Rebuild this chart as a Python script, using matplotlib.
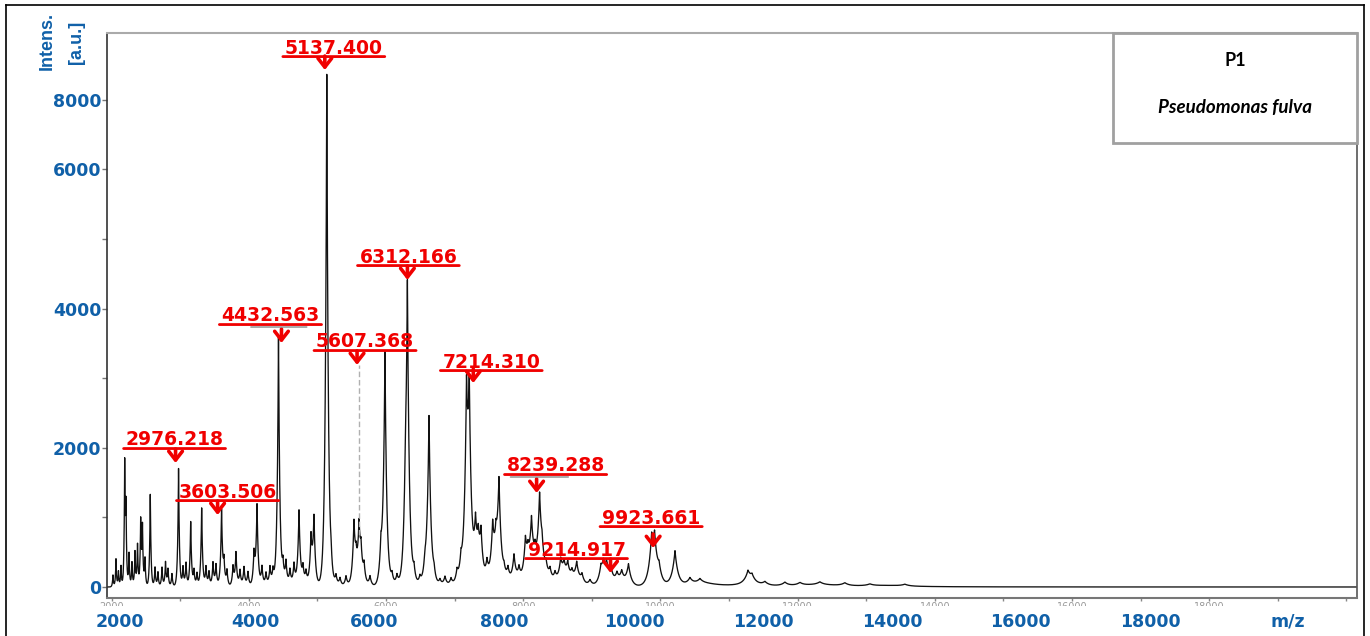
import numpy as np
import matplotlib.pyplot as plt
from matplotlib.patches import Rectangle
from matplotlib.lines import Line2D
from matplotlib.transforms import offset_copy

# peak list (m/z, intensity a.u.)
peak_mz = [2020, 2064, 2100, 2137, 2191, 2210, 2254, 2297, 2341, 2378, 2424, 2450, 2487,
           2564, 2633, 2676, 2735, 2786, 2822, 2880, 2976, 3041, 3085, 3153, 3201, 3245,
           3313, 3376, 3420, 3478, 3522, 3603, 3638, 3682, 3770, 3813, 3872, 3930, 3988,
           4076, 4120, 4192, 4251, 4309, 4353, 4433, 4498, 4542, 4600, 4659, 4732, 4790,
           4834, 4907, 4950, 5137, 5199, 5271, 5330, 5417, 5533, 5563, 5607, 5635, 5680,
           5767, 5927, 5985, 6088, 6160, 6285, 6312, 6408, 6495, 6568, 6627, 6700,
           6787, 6860, 6948, 7036, 7094, 7174, 7214, 7305, 7345, 7385, 7472, 7555, 7603,
           7647, 7720, 7778, 7866, 7939, 8033, 8070, 8121, 8172, 8239, 8274, 8333, 8391,
           8464, 8547, 8595, 8649, 8711, 8780, 8857, 8974, 9134, 9170, 9215, 9272, 9367,
           9436, 9535, 9873, 9915, 9980, 10213, 10431, 10577, 11277, 11335, 11524, 11815,
           12034, 12325, 12689, 13054, 13564]
peak_int = [170, 400, 220, 300, 1700, 1050, 480, 350, 500, 600, 920, 830, 400,
            1330, 280, 210, 280, 350, 250, 190, 1700, 280, 340, 930, 230, 190,
            1130, 280, 210, 340, 310, 1080, 330, 230, 280, 480, 230, 280, 210,
            450, 1150, 280, 190, 270, 210, 3600, 280, 340, 230, 310, 1080, 250,
            190, 650, 950, 7350, 210, 150, 120, 150, 850, 250, 750, 400, 270,
            150, 420, 3330, 150, 150, 800, 4100, 210, 120, 210, 2420, 150,
            90, 140, 110, 190, 280, 2330, 2330, 700, 450, 650, 280, 750, 400,
            1400, 150, 210, 420, 210, 550, 250, 800, 250, 1150, 300, 210, 190,
            150, 320, 230, 260, 150, 310, 150, 90, 200, 230, 220, 250, 150,
            180, 310, 550, 550, 200, 500, 90, 60, 160, 100, 50, 50,
            40, 40, 40, 25, 25]

# broad low humps of the baseline after 10000
hump_mz = [10600, 11300, 12300, 13300]
hump_int = [55, 40, 30, 18]
hump_fwhm = [500, 400, 800, 800]

# labelled peaks and the height where their arrows end
label_mz = [2976.218, 3603.506, 4432.563, 5137.400, 5607.368, 6312.166,
            7214.310, 8239.288, 9214.917, 9923.661]
label_tip = [1782, 1034, 3506, 7428, 3190, 4411, 2931, 1351, 201, 560]
label_text = ['%.3f' % v for v in label_mz]

ytick_vals = [0, 1000, 2000, 3000, 4000, 5000, 6000, 7000]
ytick_text = ['0', '', '2000', '', '4000', '', '6000', '8000']
xtick_vals = list(range(2000, 20001, 1000))
xtick_text = [str(v) if v % 2000 == 0 and v < 20000 else '' for v in xtick_vals]
xlab_text = ['2000', '4000', '6000', '8000', '10000', '12000', '14000', '16000', '18000', 'm/z']

# layout (pixels)
W, H = 1370, 636
arrow_dx = [-3, -4, 3, -2, -2, 0, 4, -3, 4, -2]
text_off = [(-4, 23), (6, 23), (-8, 27), (7, 22), (6, 23), (1, 23), (22, 21), (16, 27), (-30, 23), (-4, 30)]
gray_marks = {2: (0.30, 0.87), 7: (0.04, 0.63)}
xlab_px = [120, 255, 374, 504, 634, 763, 892, 1020, 1150, 1288]

BLUE = '#1060a8'
RED = '#f00000'


def fx(px):
    return px / W


def fy(py):
    return 1 - py / H


fig = plt.figure(figsize=(13.7, 6.36), dpi=100)
ax = fig.add_axes([fx(107), fy(598), fx(1357) - fx(107), fy(33) - fy(598)])

# each listed peak drawn as a sharp tent with exponential flanks
mz = np.arange(1933.0, 20155.0, 0.5)
spec = np.zeros_like(mz)
for c, h in zip(peak_mz, peak_int):
    tau = 0.0045 * c
    spec += h * np.exp(-np.abs(mz - c) / tau)
for c, h, w in zip(hump_mz, hump_int, hump_fwhm):
    hw = w / 2
    spec += h * hw ** 2 / (hw ** 2 + (mz - c) ** 2)

ax.plot(mz, spec, color='#111111', lw=0.95)
ax.set_xlim(1933, 20155)
ax.set_ylim(-158, 7960)

ax.set_yticks(ytick_vals)
ax.set_yticklabels(ytick_text, color=BLUE, fontsize=12.5, fontweight='bold')
ax.tick_params(axis='y', length=3.6, width=1, color='#777777', pad=0.5)
ax.set_xticks(xtick_vals)
ax.set_xticklabels(xtick_text, color='#9a9a9a', fontsize=7)
ax.tick_params(axis='x', length=2.2, width=1, color='#888888', pad=1)

ax.spines['left'].set_color('#333333')
ax.spines['left'].set_linewidth(1.2)
ax.spines['bottom'].set_color('#777777')
ax.spines['bottom'].set_linewidth(1.5)
ax.spines['top'].set_color('#aaaaaa')
ax.spines['top'].set_linewidth(1.5)
ax.spines['right'].set_color('#555555')
ax.spines['right'].set_linewidth(1.2)

# peak labels
for i, (m, tip, s) in enumerate(zip(label_mz, label_tip, label_text)):
    trans = offset_copy(ax.transData, fig=fig, x=arrow_dx[i], y=0, units='dots')
    ax.annotate('', xy=(m, tip), xycoords=trans, xytext=(0, 14), textcoords='offset pixels',
                arrowprops=dict(arrowstyle='->, head_length=0.45, head_width=0.35',
                                color=RED, lw=2.6, shrinkA=0, shrinkB=0, mutation_scale=14))
    txt = ax.annotate(s, xy=(m, tip), xytext=text_off[i], textcoords='offset pixels',
                      ha='center', va='center', color=RED, fontsize=13.5, fontweight='bold')
    ax.annotate('', xy=(-0.02, 0.05), xycoords=txt, xytext=(1.02, 0.05), textcoords=txt,
                arrowprops=dict(arrowstyle='-', color=RED, lw=2, shrinkA=0, shrinkB=0))
    if i in gray_marks:
        a, b = gray_marks[i]
        ax.annotate('', xy=(a, -0.08), xycoords=txt, xytext=(b, -0.08), textcoords=txt,
                    arrowprops=dict(arrowstyle='-', color='#888888', lw=1, shrinkA=0, shrinkB=0))

ax.plot([label_mz[4], label_mz[4]], [750, label_tip[4]], ls=(0, (4, 2)), color='#b0b0b0', lw=1)

# sample box
ax.add_patch(Rectangle((0.8048, 0.8053), 0.1952, 0.1947, transform=ax.transAxes,
                       facecolor='white', edgecolor='#a0a0a0', lw=2, zorder=5, clip_on=False))
ax.text(0.9024, 0.952, 'P1', transform=ax.transAxes, ha='center', va='center',
        fontsize=13, fontweight='bold', family='Lato', zorder=6)
ax.text(0.9024, 0.869, 'Pseudomonas fulva', transform=ax.transAxes, ha='center', va='center',
        fontsize=13.5, fontweight='bold', style='italic', family='Lato', zorder=6)

# cover lower half of small gray tick labels
fig.add_artist(Rectangle((fx(100), 0), fx(1360) - fx(100), fy(606), transform=fig.transFigure,
                         facecolor='white', edgecolor='none', zorder=1))
for s, px in zip(xlab_text, xlab_px):
    fig.text(fx(px), fy(622), s, ha='center', va='center', color=BLUE,
             fontsize=12.5, fontweight='bold', zorder=2)

ylab_font = ['Liberation Sans Narrow', 'Liberation Sans', 'DejaVu Sans']
fig.text(fx(47), fy(41), 'Intens.', rotation=90, ha='center', va='center', color=BLUE,
         fontsize=13, fontweight='bold', family=ylab_font)
fig.text(fx(77), fy(42), '[a.u.]', rotation=90, ha='center', va='center', color=BLUE,
         fontsize=13, fontweight='bold', family=ylab_font)

# outer frame
fig.add_artist(Line2D([fx(6), fx(6)], [0, fy(5)], transform=fig.transFigure, color='black', lw=1.2))
fig.add_artist(Line2D([fx(6), fx(1364)], [fy(5), fy(5)], transform=fig.transFigure, color='black', lw=1.2))
fig.add_artist(Line2D([fx(1364), fx(1364)], [0, fy(5)], transform=fig.transFigure, color='black', lw=1.2))

fig.savefig('out.png', dpi=100)
